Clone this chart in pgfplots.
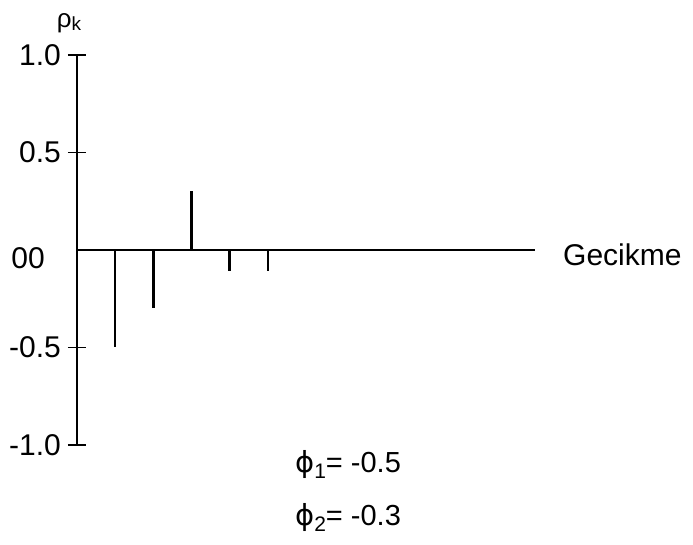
\documentclass[border=0pt]{standalone}
\usepackage{pgfplots}
\pgfplotsset{compat=1.18}
\usepackage{fontspec}
\setmainfont{Liberation Sans}
\newfontfamily\dejavu{DejaVu Sans}
\begin{document}
\begin{tikzpicture}
\useasboundingbox (0,0) rectangle (693pt,545pt);
\begin{axis}[
  at={(77pt,100pt)}, anchor=south west,
  scale only axis, width=458pt, height=390pt,
  xmin=0, xmax=12, ymin=-1, ymax=1,
  axis lines=middle, axis line style={-, line width=2pt},
  clip=false,
  xtick=\empty,
  ytick={-1,-0.5,0.5,1},
  yticklabels={-1.0,-0.5,0.5,1.0},
  tick align=center, major tick length=18pt,
  tick style={line width=1.6pt, black},
  /pgf/number format/assume math mode=true,
  yticklabel style={font=\fontsize{30}{36}\selectfont, anchor=east, inner sep=0pt, xshift=-7pt},
]
\addplot[ycomb, black, mark=none, line width=2.4pt] coordinates {
  (1,-0.50) (2,-0.30) (3,0.30) (4,-0.11) (5,-0.11)
};
\node[anchor=east, inner sep=0pt, font=\fontsize{30}{36}\selectfont] at (axis cs:0,0) [xshift=-32pt, yshift=-8pt] {00};
\node[anchor=west, inner sep=0pt, font=\fontsize{30}{36}\selectfont] at (axis cs:12,0) [xshift=28pt, yshift=-5pt] {Gecikme};
\node[anchor=south, inner sep=0pt, font=\fontsize{26}{30}\selectfont] at (axis cs:0,1) [xshift=-8pt, yshift=22pt] {ρ\raisebox{-3pt}{\fontsize{19}{22}\selectfont k}};
\node[anchor=west, inner sep=0pt, font=\fontsize{29}{34}\selectfont] at (axis cs:5.71,-1.10) {{\dejavu ϕ}\raisebox{-6pt}{\fontsize{21}{24}\selectfont 1}= -0.5};
\node[anchor=west, inner sep=0pt, font=\fontsize{29}{34}\selectfont] at (axis cs:5.71,-1.37) {{\dejavu ϕ}\raisebox{-6pt}{\fontsize{21}{24}\selectfont 2}= -0.3};
\end{axis}
\end{tikzpicture}
\end{document}
